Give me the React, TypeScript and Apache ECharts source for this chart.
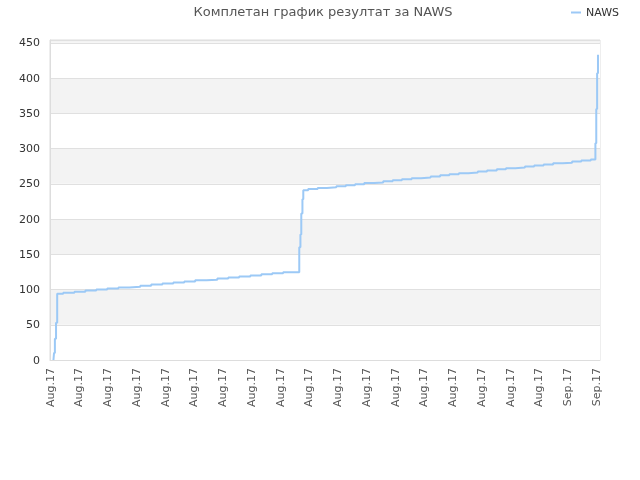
import React, { useEffect, useRef } from "react";
import * as echarts from "echarts";

const TITLE = "Комплетан график резултат за NAWS";
const SERIES_NAME = "NAWS";
const X_LABELS = [
  "Aug.17", "Aug.17", "Aug.17", "Aug.17", "Aug.17", "Aug.17", "Aug.17", "Aug.17", "Aug.17", "Aug.17",
  "Aug.17", "Aug.17", "Aug.17", "Aug.17", "Aug.17", "Aug.17", "Aug.17", "Aug.17", "Sep.17", "Sep.17",
];
// x positions in units of x tick label index
const X_VALUES = [
  0.12, 0.14, 0.17, 0.21, 0.25,
  0.46, 0.85, 1.23, 1.61, 1.99, 2.38, 2.76, 3.14, 3.52, 3.91, 4.29, 4.67, 5.05, 5.44, 5.82, 6.2, 6.58, 6.97, 7.35, 7.73, 8.11,
  8.67, 8.71, 8.74, 8.78, 8.81,
  8.98, 9.31, 9.63, 9.96, 10.29, 10.61, 10.93, 11.27, 11.59, 11.92, 12.24, 12.58, 12.9, 13.24, 13.57, 13.89, 14.22, 14.55,
  14.88, 15.2, 15.54, 15.86, 16.18, 16.52, 16.84, 17.17, 17.5, 17.83, 18.16, 18.48, 18.81,
  18.97, 19.0, 19.03, 19.06,
];
const Y_VALUES = [
  0, 10, 30, 53, 94,
  95.5, 97, 98.5, 100, 101.5, 103, 104, 105.5, 107, 108.5, 110, 111.5, 113, 114, 115.5, 117, 118.5, 120, 121.5, 123, 124.5,
  160, 178, 208, 228, 241,
  242.5, 244, 245, 246.5, 248, 249.5, 251, 252, 253.5, 255, 256.5, 258, 259, 260.5, 262, 263.5, 265, 266,
  267.5, 269, 270.5, 272, 273, 274.5, 276, 277.5, 279, 280, 281.5, 283, 284.5,
  307.6, 356, 407, 433,
];
const X_MAX = 19.13;
const Y_MAX = 454;

export default function App() {
  const ref = useRef<HTMLDivElement>(null);
  useEffect(() => {
    if (!ref.current) return;
    const chart = echarts.init(ref.current, null, { renderer: "svg" });
    const data = X_VALUES.map((x, i) => [x, Y_VALUES[i]]);
    chart.setOption({
      animation: false,
      title: {
        text: TITLE,
        left: 318,
        textAlign: "center",
        top: 0,
        textStyle: { fontSize: 13, fontWeight: "normal", color: "#555", fontFamily: "DejaVu Sans" },
      },
      legend: {
        right: 16,
        top: 2,
        itemWidth: 10,
        itemHeight: 2,
        itemGap: 8,
        textStyle: { fontSize: 11, color: "#333", fontFamily: "DejaVu Sans" },
        data: [{ name: SERIES_NAME, icon: "rect" }],
      },
      grid: {
        left: 50,
        right: 40,
        top: 40,
        bottom: 120,
        show: true,
        borderColor: "#ddd",
        borderWidth: 1,
      },
      xAxis: {
        type: "value",
        min: 0,
        max: X_MAX,
        interval: 1,
        axisLine: { show: true, lineStyle: { color: "#ddd" } },
        axisTick: { show: false },
        splitLine: { show: false },
        axisLabel: {
          rotate: 90,
          fontSize: 11,
          color: "#555",
          fontFamily: "DejaVu Sans",
          margin: 8,
          showMaxLabel: false,
          formatter: (v: number) => {
            const r = Math.round(v);
            return Math.abs(v - r) < 1e-6 && X_LABELS[r] ? X_LABELS[r] : "";
          },
        },
      },
      yAxis: {
        type: "value",
        min: 0,
        max: Y_MAX,
        interval: 50,
        axisLine: { show: true, lineStyle: { color: "#ddd" } },
        axisTick: { show: false },
        axisLabel: {
          fontSize: 11,
          color: "#333",
          fontFamily: "DejaVu Sans",
          margin: 10,
          formatter: (v: number) => (v % 50 === 0 ? String(v) : ""),
        },
        splitLine: { show: true, lineStyle: { color: "#e0e0e0" } },
        splitArea: { show: true, areaStyle: { color: ["#ffffff", "#f3f3f3"] } },
      },
      series: [
        {
          name: SERIES_NAME,
          type: "line",
          step: "end",
          data,
          showSymbol: false,
          symbol: "none",
          lineStyle: { color: "#9cc9f6", width: 2 },
          itemStyle: { color: "#9cc9f6" },
        },
      ],
    });
    return () => chart.dispose();
  }, []);
  return (
    <div
      ref={ref}
      style={{ position: "fixed", left: 0, top: 0, width: 640, height: 480 }}
    />
  );
}
